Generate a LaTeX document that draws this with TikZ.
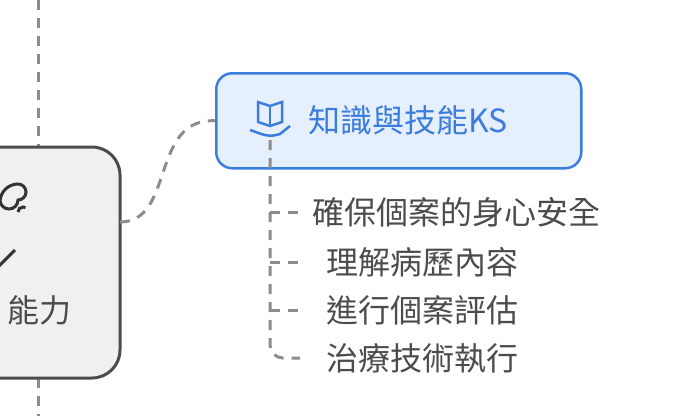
\documentclass[tikz,border=0pt]{standalone}
\usepackage{fontspec}
\newfontfamily\cjk{Noto Sans CJK TC}
\usetikzlibrary{positioning}
\definecolor{ksblue}{HTML}{3B7DDD}
\definecolor{ksfill}{HTML}{E6EFFD}
\definecolor{linegray}{HTML}{8C8C8C}
\tikzset{
  link/.style={linegray, line width=3pt, dash pattern=on 10pt off 8pt},
  item/.style={anchor=west, text=black!70, font=\cjk\fontsize{32}{32}\selectfont, inner sep=0pt},
}
\begin{document}
\begin{tikzpicture}[x=1pt,y=-1pt]
  \useasboundingbox (0,0) rectangle (674,416);

  % skill node (cut off at the left)
  \draw[link] (38,0) -- (38,147);
  \draw[link] (38,378) -- (38,416);
  \draw[black!70, line width=3pt, fill=black!6, rounded corners=28pt]
    (-60,147) rectangle (120,378);
  \coordinate (skill) at (120,222);
  \node[text=black!70, font=\cjk\fontsize{32}{32}\selectfont, anchor=east, inner sep=0pt] (skilltext) at (72,310) {能力};
  % brain icon
  \begin{scope}[black!80, line width=3pt]
    \draw (0,200) arc (180:0:9) arc (90:-90:8) arc (-90:-180:18);
    \draw (18,212) arc (180:300:5);
    \draw (-5,270) -- (15,250);
  \end{scope}

  % knowledge node
  \node[draw=ksblue, line width=2.5pt, fill=ksfill, rounded corners=16pt,
        minimum width=365pt, minimum height=95pt, anchor=north west] (ks) at (215,72) {};
  \node[text=ksblue, font=\cjk\fontsize{32}{32}\selectfont, anchor=west, inner sep=0pt] (kstext) at (308,120) {知識與技能KS};
  % book in hand icon
  \begin{scope}[ksblue, line width=2.5pt]
    \draw (258,102) -- (258,122) -- (270,126) -- (282,122) -- (282,102) -- (270,106) -- cycle;
    \draw (270,106) -- (270,126);
    \draw (250,130) .. controls (262,134) and (268,138) .. (280,134) -- (290,126);
  \end{scope}

  \draw[link] (skill) .. controls (175,222) and (150,118) .. (ks.west);

  % items
  \node[item] (k1) at (312,212) {確保個案的身心安全};
  \node[item] (k2) at (326,262) {理解病歷內容};
  \node[item] (k3) at (326,310) {進行個案評估};
  \node[item] (k4) at (326,358) {治療技術執行};
  \coordinate (trunk) at (270,140);
  \draw[link] (trunk) -- (270,345) arc (180:90:13) -- ([xshift=-26pt]k4.west);
  \draw[link] (270,212) -- ([xshift=-14pt]k1.west);
  \draw[link] (270,262) -- ([xshift=-26pt]k2.west);
  \draw[link] (270,310) -- ([xshift=-26pt]k3.west);
\end{tikzpicture}
\end{document}
